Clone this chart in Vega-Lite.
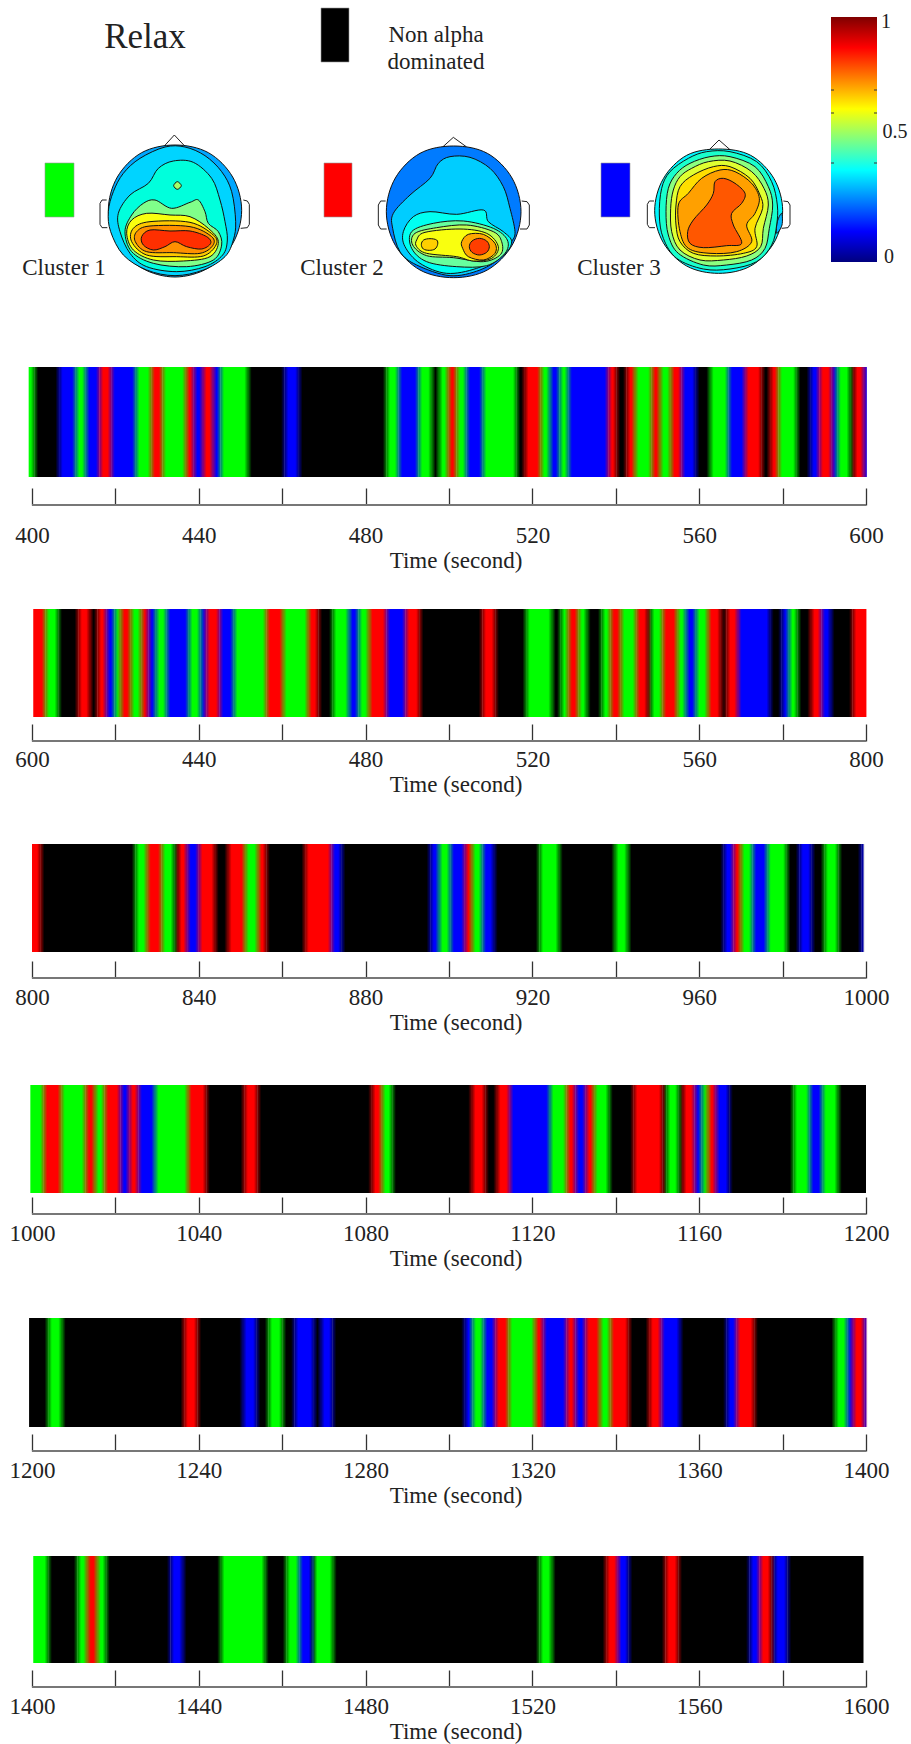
{
"$schema":"https://vega.github.io/schema/vega-lite/v6.json",
"padding":0,"background":"white","spacing":0,"bounds":"flush",
"config":{"view":{"stroke":null},"range":{"category":["#0000ff","#00ff00","#000000","#ff0000"]},
"axis":{"labelFont":"Liberation Serif","titleFont":"Liberation Serif","labelFontSize":23,"titleFontSize":23,"titleFontWeight":"normal","labelColor":"#222","titleColor":"#222","grid":false,"domain":false,"tickColor":"#333","tickWidth":1.3,"tickSize":-17,"labelPadding":25,"titlePadding":2,"labelFlush":false,"labelOverlap":false}},
"datasets":{
"heads":[
{"h":1,"c":"1z","l":0.25,"x":455,"y":256},{"h":1,"c":"1z","l":0.25,"x":428,"y":356},{"h":1,"c":"1z","l":0.25,"x":355,"y":429},{"h":1,"c":"1z","l":0.25,"x":255,"y":456},{"h":1,"c":"1z","l":0.25,"x":155,"y":429},{"h":1,"c":"1z","l":0.25,"x":82,"y":356},{"h":1,"c":"1z","l":0.25,"x":55,"y":256},{"h":1,"c":"1z","l":0.25,"x":82,"y":156},{"h":1,"c":"1z","l":0.25,"x":155,"y":83},{"h":1,"c":"1z","l":0.25,"x":255,"y":60},{"h":1,"c":"1z","l":0.25,"x":355,"y":83},{"h":1,"c":"1z","l":0.25,"x":428,"y":156},
{"h":1,"c":"1a","l":0.31,"x":225,"y":66},{"h":1,"c":"1a","l":0.31,"x":150,"y":100},{"h":1,"c":"1a","l":0.31,"x":100,"y":145},{"h":1,"c":"1a","l":0.31,"x":70,"y":200},{"h":1,"c":"1a","l":0.31,"x":55,"y":260},{"h":1,"c":"1a","l":0.31,"x":62,"y":320},{"h":1,"c":"1a","l":0.31,"x":100,"y":390},{"h":1,"c":"1a","l":0.31,"x":170,"y":435},{"h":1,"c":"1a","l":0.31,"x":255,"y":452},{"h":1,"c":"1a","l":0.31,"x":340,"y":435},{"h":1,"c":"1a","l":0.31,"x":405,"y":395},{"h":1,"c":"1a","l":0.31,"x":430,"y":345},{"h":1,"c":"1a","l":0.31,"x":437,"y":290},{"h":1,"c":"1a","l":0.31,"x":425,"y":200},{"h":1,"c":"1a","l":0.31,"x":395,"y":140},{"h":1,"c":"1a","l":0.31,"x":345,"y":92},{"h":1,"c":"1a","l":0.31,"x":285,"y":66},
{"h":1,"c":"1b","l":0.43,"x":250,"y":108},{"h":1,"c":"1b","l":0.43,"x":205,"y":130},{"h":1,"c":"1b","l":0.43,"x":175,"y":175},{"h":1,"c":"1b","l":0.43,"x":120,"y":210},{"h":1,"c":"1b","l":0.43,"x":85,"y":265},{"h":1,"c":"1b","l":0.43,"x":90,"y":320},{"h":1,"c":"1b","l":0.43,"x":120,"y":385},{"h":1,"c":"1b","l":0.43,"x":170,"y":425},{"h":1,"c":"1b","l":0.43,"x":260,"y":440},{"h":1,"c":"1b","l":0.43,"x":345,"y":425},{"h":1,"c":"1b","l":0.43,"x":398,"y":390},{"h":1,"c":"1b","l":0.43,"x":412,"y":345},{"h":1,"c":"1b","l":0.43,"x":405,"y":290},{"h":1,"c":"1b","l":0.43,"x":390,"y":225},{"h":1,"c":"1b","l":0.43,"x":365,"y":160},{"h":1,"c":"1b","l":0.43,"x":310,"y":112},
{"h":1,"c":"1d","l":0.55,"x":262,"y":170},{"h":1,"c":"1d","l":0.55,"x":274,"y":182},{"h":1,"c":"1d","l":0.55,"x":262,"y":193},{"h":1,"c":"1d","l":0.55,"x":251,"y":182},
{"h":1,"c":"1c","l":0.52,"x":125,"y":270},{"h":1,"c":"1c","l":0.52,"x":160,"y":235},{"h":1,"c":"1c","l":0.52,"x":195,"y":225},{"h":1,"c":"1c","l":0.52,"x":245,"y":250},{"h":1,"c":"1c","l":0.52,"x":300,"y":232},{"h":1,"c":"1c","l":0.52,"x":325,"y":225},{"h":1,"c":"1c","l":0.52,"x":345,"y":260},{"h":1,"c":"1c","l":0.52,"x":355,"y":295},{"h":1,"c":"1c","l":0.52,"x":385,"y":320},{"h":1,"c":"1c","l":0.52,"x":395,"y":360},{"h":1,"c":"1c","l":0.52,"x":370,"y":405},{"h":1,"c":"1c","l":0.52,"x":290,"y":425},{"h":1,"c":"1c","l":0.52,"x":190,"y":415},{"h":1,"c":"1c","l":0.52,"x":125,"y":380},{"h":1,"c":"1c","l":0.52,"x":105,"y":320},
{"h":1,"c":"1e","l":0.62,"x":125,"y":285},{"h":1,"c":"1e","l":0.62,"x":170,"y":265},{"h":1,"c":"1e","l":0.62,"x":240,"y":270},{"h":1,"c":"1e","l":0.62,"x":300,"y":275},{"h":1,"c":"1e","l":0.62,"x":355,"y":310},{"h":1,"c":"1e","l":0.62,"x":385,"y":350},{"h":1,"c":"1e","l":0.62,"x":360,"y":395},{"h":1,"c":"1e","l":0.62,"x":280,"y":408},{"h":1,"c":"1e","l":0.62,"x":190,"y":405},{"h":1,"c":"1e","l":0.62,"x":130,"y":375},{"h":1,"c":"1e","l":0.62,"x":110,"y":325},
{"h":1,"c":"1f","l":0.7,"x":130,"y":310},{"h":1,"c":"1f","l":0.7,"x":180,"y":290},{"h":1,"c":"1f","l":0.7,"x":300,"y":292},{"h":1,"c":"1f","l":0.7,"x":370,"y":330},{"h":1,"c":"1f","l":0.7,"x":378,"y":360},{"h":1,"c":"1f","l":0.7,"x":340,"y":393},{"h":1,"c":"1f","l":0.7,"x":260,"y":395},{"h":1,"c":"1f","l":0.7,"x":170,"y":390},{"h":1,"c":"1f","l":0.7,"x":125,"y":350},
{"h":1,"c":"1g","l":0.77,"x":140,"y":320},{"h":1,"c":"1g","l":0.77,"x":180,"y":303},{"h":1,"c":"1g","l":0.77,"x":300,"y":305},{"h":1,"c":"1g","l":0.77,"x":365,"y":335},{"h":1,"c":"1g","l":0.77,"x":368,"y":362},{"h":1,"c":"1g","l":0.77,"x":330,"y":385},{"h":1,"c":"1g","l":0.77,"x":250,"y":383},{"h":1,"c":"1g","l":0.77,"x":170,"y":380},{"h":1,"c":"1g","l":0.77,"x":136,"y":350},
{"h":1,"c":"1h","l":0.86,"x":155,"y":335},{"h":1,"c":"1h","l":0.86,"x":180,"y":315},{"h":1,"c":"1h","l":0.86,"x":240,"y":318},{"h":1,"c":"1h","l":0.86,"x":300,"y":318},{"h":1,"c":"1h","l":0.86,"x":350,"y":335},{"h":1,"c":"1h","l":0.86,"x":362,"y":355},{"h":1,"c":"1h","l":0.86,"x":335,"y":372},{"h":1,"c":"1h","l":0.86,"x":290,"y":365},{"h":1,"c":"1h","l":0.86,"x":255,"y":350},{"h":1,"c":"1h","l":0.86,"x":225,"y":365},{"h":1,"c":"1h","l":0.86,"x":190,"y":375},{"h":1,"c":"1h","l":0.86,"x":160,"y":360},

{"h":2,"c":"2z","l":0.2,"x":453,"y":260},{"h":2,"c":"2z","l":0.2,"x":426,"y":361},{"h":2,"c":"2z","l":0.2,"x":352,"y":435},{"h":2,"c":"2z","l":0.2,"x":251,"y":458},{"h":2,"c":"2z","l":0.2,"x":150,"y":435},{"h":2,"c":"2z","l":0.2,"x":76,"y":361},{"h":2,"c":"2z","l":0.2,"x":49,"y":260},{"h":2,"c":"2z","l":0.2,"x":76,"y":159},{"h":2,"c":"2z","l":0.2,"x":150,"y":85},{"h":2,"c":"2z","l":0.2,"x":251,"y":63},{"h":2,"c":"2z","l":0.2,"x":352,"y":85},{"h":2,"c":"2z","l":0.2,"x":426,"y":159},
{"h":2,"c":"2a","l":0.3,"x":205,"y":115},{"h":2,"c":"2a","l":0.3,"x":240,"y":95},{"h":2,"c":"2a","l":0.3,"x":300,"y":97},{"h":2,"c":"2a","l":0.3,"x":360,"y":130},{"h":2,"c":"2a","l":0.3,"x":400,"y":185},{"h":2,"c":"2a","l":0.3,"x":420,"y":250},{"h":2,"c":"2a","l":0.3,"x":435,"y":320},{"h":2,"c":"2a","l":0.3,"x":425,"y":350},{"h":2,"c":"2a","l":0.3,"x":395,"y":395},{"h":2,"c":"2a","l":0.3,"x":330,"y":435},{"h":2,"c":"2a","l":0.3,"x":240,"y":452},{"h":2,"c":"2a","l":0.3,"x":140,"y":420},{"h":2,"c":"2a","l":0.3,"x":90,"y":380},{"h":2,"c":"2a","l":0.3,"x":68,"y":310},{"h":2,"c":"2a","l":0.3,"x":70,"y":265},{"h":2,"c":"2a","l":0.3,"x":120,"y":210},{"h":2,"c":"2a","l":0.3,"x":180,"y":160},
{"h":2,"c":"2b","l":0.4,"x":130,"y":275},{"h":2,"c":"2b","l":0.4,"x":180,"y":260},{"h":2,"c":"2b","l":0.4,"x":260,"y":268},{"h":2,"c":"2b","l":0.4,"x":340,"y":255},{"h":2,"c":"2b","l":0.4,"x":355,"y":290},{"h":2,"c":"2b","l":0.4,"x":400,"y":320},{"h":2,"c":"2b","l":0.4,"x":425,"y":350},{"h":2,"c":"2b","l":0.4,"x":400,"y":390},{"h":2,"c":"2b","l":0.4,"x":320,"y":430},{"h":2,"c":"2b","l":0.4,"x":230,"y":445},{"h":2,"c":"2b","l":0.4,"x":150,"y":415},{"h":2,"c":"2b","l":0.4,"x":105,"y":365},{"h":2,"c":"2b","l":0.4,"x":100,"y":320},
{"h":2,"c":"2c","l":0.5,"x":125,"y":320},{"h":2,"c":"2c","l":0.5,"x":190,"y":295},{"h":2,"c":"2c","l":0.5,"x":280,"y":288},{"h":2,"c":"2c","l":0.5,"x":370,"y":310},{"h":2,"c":"2c","l":0.5,"x":412,"y":345},{"h":2,"c":"2c","l":0.5,"x":405,"y":385},{"h":2,"c":"2c","l":0.5,"x":350,"y":422},{"h":2,"c":"2c","l":0.5,"x":260,"y":425},{"h":2,"c":"2c","l":0.5,"x":170,"y":410},{"h":2,"c":"2c","l":0.5,"x":125,"y":370},
{"h":2,"c":"2d","l":0.57,"x":135,"y":325},{"h":2,"c":"2d","l":0.57,"x":200,"y":308},{"h":2,"c":"2d","l":0.57,"x":290,"y":300},{"h":2,"c":"2d","l":0.57,"x":370,"y":320},{"h":2,"c":"2d","l":0.57,"x":395,"y":350},{"h":2,"c":"2d","l":0.57,"x":392,"y":388},{"h":2,"c":"2d","l":0.57,"x":340,"y":410},{"h":2,"c":"2d","l":0.57,"x":250,"y":398},{"h":2,"c":"2d","l":0.57,"x":170,"y":392},{"h":2,"c":"2d","l":0.57,"x":128,"y":360},
{"h":2,"c":"2e","l":0.62,"x":140,"y":345},{"h":2,"c":"2e","l":0.62,"x":165,"y":322},{"h":2,"c":"2e","l":0.62,"x":270,"y":312},{"h":2,"c":"2e","l":0.62,"x":350,"y":325},{"h":2,"c":"2e","l":0.62,"x":385,"y":365},{"h":2,"c":"2e","l":0.62,"x":365,"y":400},{"h":2,"c":"2e","l":0.62,"x":310,"y":408},{"h":2,"c":"2e","l":0.62,"x":260,"y":395},{"h":2,"c":"2e","l":0.62,"x":170,"y":385},{"h":2,"c":"2e","l":0.62,"x":140,"y":365},
{"h":2,"c":"2f","l":0.69,"x":154,"y":358},{"h":2,"c":"2f","l":0.69,"x":161,"y":345},{"h":2,"c":"2f","l":0.69,"x":180,"y":341},{"h":2,"c":"2f","l":0.69,"x":200,"y":345},{"h":2,"c":"2f","l":0.69,"x":203,"y":358},{"h":2,"c":"2f","l":0.69,"x":195,"y":372},{"h":2,"c":"2f","l":0.69,"x":178,"y":376},{"h":2,"c":"2f","l":0.69,"x":160,"y":372},
{"h":2,"c":"2g","l":0.74,"x":275,"y":350},{"h":2,"c":"2g","l":0.74,"x":295,"y":328},{"h":2,"c":"2g","l":0.74,"x":340,"y":328},{"h":2,"c":"2g","l":0.74,"x":375,"y":355},{"h":2,"c":"2g","l":0.74,"x":375,"y":385},{"h":2,"c":"2g","l":0.74,"x":340,"y":405},{"h":2,"c":"2g","l":0.74,"x":295,"y":395},{"h":2,"c":"2g","l":0.74,"x":278,"y":370},
{"h":2,"c":"2h","l":0.85,"x":298,"y":365},{"h":2,"c":"2h","l":0.85,"x":306,"y":348},{"h":2,"c":"2h","l":0.85,"x":328,"y":340},{"h":2,"c":"2h","l":0.85,"x":350,"y":348},{"h":2,"c":"2h","l":0.85,"x":358,"y":365},{"h":2,"c":"2h","l":0.85,"x":350,"y":382},{"h":2,"c":"2h","l":0.85,"x":328,"y":390},{"h":2,"c":"2h","l":0.85,"x":306,"y":382},

{"h":3,"c":"3z","l":0.36,"x":428,"y":257},{"h":3,"c":"3z","l":0.36,"x":402,"y":353},{"h":3,"c":"3z","l":0.36,"x":332,"y":423},{"h":3,"c":"3z","l":0.36,"x":236,"y":445},{"h":3,"c":"3z","l":0.36,"x":140,"y":423},{"h":3,"c":"3z","l":0.36,"x":70,"y":353},{"h":3,"c":"3z","l":0.36,"x":44,"y":257},{"h":3,"c":"3z","l":0.36,"x":70,"y":161},{"h":3,"c":"3z","l":0.36,"x":140,"y":91},{"h":3,"c":"3z","l":0.36,"x":236,"y":72},{"h":3,"c":"3z","l":0.36,"x":332,"y":91},{"h":3,"c":"3z","l":0.36,"x":402,"y":161},
{"h":3,"c":"3y","l":0.27,"x":412,"y":290},{"h":3,"c":"3y","l":0.27,"x":425,"y":265},{"h":3,"c":"3y","l":0.27,"x":426,"y":300},{"h":3,"c":"3y","l":0.27,"x":410,"y":325},
{"h":3,"c":"3a","l":0.45,"x":145,"y":100},{"h":3,"c":"3a","l":0.45,"x":200,"y":80},{"h":3,"c":"3a","l":0.45,"x":270,"y":80},{"h":3,"c":"3a","l":0.45,"x":350,"y":110},{"h":3,"c":"3a","l":0.45,"x":395,"y":170},{"h":3,"c":"3a","l":0.45,"x":412,"y":240},{"h":3,"c":"3a","l":0.45,"x":410,"y":300},{"h":3,"c":"3a","l":0.45,"x":395,"y":360},{"h":3,"c":"3a","l":0.45,"x":350,"y":410},{"h":3,"c":"3a","l":0.45,"x":270,"y":432},{"h":3,"c":"3a","l":0.45,"x":190,"y":432},{"h":3,"c":"3a","l":0.45,"x":110,"y":400},{"h":3,"c":"3a","l":0.45,"x":70,"y":340},{"h":3,"c":"3a","l":0.45,"x":58,"y":270},{"h":3,"c":"3a","l":0.45,"x":65,"y":190},{"h":3,"c":"3a","l":0.45,"x":90,"y":140},
{"h":3,"c":"3b","l":0.53,"x":150,"y":115},{"h":3,"c":"3b","l":0.53,"x":210,"y":95},{"h":3,"c":"3b","l":0.53,"x":270,"y":95},{"h":3,"c":"3b","l":0.53,"x":345,"y":125},{"h":3,"c":"3b","l":0.53,"x":385,"y":185},{"h":3,"c":"3b","l":0.53,"x":398,"y":240},{"h":3,"c":"3b","l":0.53,"x":388,"y":310},{"h":3,"c":"3b","l":0.53,"x":375,"y":370},{"h":3,"c":"3b","l":0.53,"x":335,"y":405},{"h":3,"c":"3b","l":0.53,"x":260,"y":420},{"h":3,"c":"3b","l":0.53,"x":190,"y":420},{"h":3,"c":"3b","l":0.53,"x":115,"y":385},{"h":3,"c":"3b","l":0.53,"x":85,"y":330},{"h":3,"c":"3b","l":0.53,"x":78,"y":260},{"h":3,"c":"3b","l":0.53,"x":85,"y":190},{"h":3,"c":"3b","l":0.53,"x":110,"y":145},
{"h":3,"c":"3c","l":0.6,"x":155,"y":130},{"h":3,"c":"3c","l":0.6,"x":205,"y":110},{"h":3,"c":"3c","l":0.6,"x":270,"y":108},{"h":3,"c":"3c","l":0.6,"x":335,"y":140},{"h":3,"c":"3c","l":0.6,"x":372,"y":190},{"h":3,"c":"3c","l":0.6,"x":385,"y":240},{"h":3,"c":"3c","l":0.6,"x":370,"y":310},{"h":3,"c":"3c","l":0.6,"x":362,"y":365},{"h":3,"c":"3c","l":0.6,"x":320,"y":393},{"h":3,"c":"3c","l":0.6,"x":250,"y":405},{"h":3,"c":"3c","l":0.6,"x":180,"y":405},{"h":3,"c":"3c","l":0.6,"x":120,"y":375},{"h":3,"c":"3c","l":0.6,"x":95,"y":320},{"h":3,"c":"3c","l":0.6,"x":92,"y":250},{"h":3,"c":"3c","l":0.6,"x":100,"y":195},{"h":3,"c":"3c","l":0.6,"x":120,"y":155},
{"h":3,"c":"3d","l":0.67,"x":160,"y":150},{"h":3,"c":"3d","l":0.67,"x":220,"y":125},{"h":3,"c":"3d","l":0.67,"x":270,"y":125},{"h":3,"c":"3d","l":0.67,"x":330,"y":160},{"h":3,"c":"3d","l":0.67,"x":360,"y":210},{"h":3,"c":"3d","l":0.67,"x":368,"y":250},{"h":3,"c":"3d","l":0.67,"x":345,"y":310},{"h":3,"c":"3d","l":0.67,"x":350,"y":365},{"h":3,"c":"3d","l":0.67,"x":310,"y":385},{"h":3,"c":"3d","l":0.67,"x":230,"y":393},{"h":3,"c":"3d","l":0.67,"x":160,"y":385},{"h":3,"c":"3d","l":0.67,"x":120,"y":350},{"h":3,"c":"3d","l":0.67,"x":108,"y":300},{"h":3,"c":"3d","l":0.67,"x":108,"y":240},{"h":3,"c":"3d","l":0.67,"x":120,"y":185},
{"h":3,"c":"3e","l":0.75,"x":145,"y":205},{"h":3,"c":"3e","l":0.75,"x":185,"y":160},{"h":3,"c":"3e","l":0.75,"x":240,"y":135},{"h":3,"c":"3e","l":0.75,"x":285,"y":140},{"h":3,"c":"3e","l":0.75,"x":335,"y":175},{"h":3,"c":"3e","l":0.75,"x":358,"y":220},{"h":3,"c":"3e","l":0.75,"x":345,"y":265},{"h":3,"c":"3e","l":0.75,"x":320,"y":300},{"h":3,"c":"3e","l":0.75,"x":335,"y":350},{"h":3,"c":"3e","l":0.75,"x":290,"y":380},{"h":3,"c":"3e","l":0.75,"x":210,"y":385},{"h":3,"c":"3e","l":0.75,"x":145,"y":370},{"h":3,"c":"3e","l":0.75,"x":120,"y":320},{"h":3,"c":"3e","l":0.75,"x":115,"y":240},
{"h":3,"c":"3f","l":0.83,"x":225,"y":170},{"h":3,"c":"3f","l":0.83,"x":250,"y":160},{"h":3,"c":"3f","l":0.83,"x":285,"y":175},{"h":3,"c":"3f","l":0.83,"x":315,"y":205},{"h":3,"c":"3f","l":0.83,"x":305,"y":235},{"h":3,"c":"3f","l":0.83,"x":275,"y":265},{"h":3,"c":"3f","l":0.83,"x":280,"y":300},{"h":3,"c":"3f","l":0.83,"x":305,"y":355},{"h":3,"c":"3f","l":0.83,"x":260,"y":362},{"h":3,"c":"3f","l":0.83,"x":190,"y":368},{"h":3,"c":"3f","l":0.83,"x":150,"y":355},{"h":3,"c":"3f","l":0.83,"x":143,"y":320},{"h":3,"c":"3f","l":0.83,"x":160,"y":285},{"h":3,"c":"3f","l":0.83,"x":200,"y":240},{"h":3,"c":"3f","l":0.83,"x":220,"y":205}
],
"outlines":[
{"h":1,"c":"n1","x":222,"y":64},{"h":1,"c":"n1","x":253,"y":30},{"h":1,"c":"n1","x":285,"y":64},
{"h":1,"c":"e1l","x":50,"y":225},{"h":1,"c":"e1l","x":36,"y":225},{"h":1,"c":"e1l","x":30,"y":235},{"h":1,"c":"e1l","x":30,"y":298},{"h":1,"c":"e1l","x":36,"y":308},{"h":1,"c":"e1l","x":52,"y":308},
{"h":1,"c":"e1r","x":460,"y":225},{"h":1,"c":"e1r","x":472,"y":228},{"h":1,"c":"e1r","x":478,"y":238},{"h":1,"c":"e1r","x":478,"y":298},{"h":1,"c":"e1r","x":472,"y":308},{"h":1,"c":"e1r","x":452,"y":310},
{"h":2,"c":"n2","x":218,"y":66},{"h":2,"c":"n2","x":250,"y":37},{"h":2,"c":"n2","x":290,"y":66},
{"h":2,"c":"e2l","x":47,"y":228},{"h":2,"c":"e2l","x":32,"y":228},{"h":2,"c":"e2l","x":25,"y":240},{"h":2,"c":"e2l","x":25,"y":300},{"h":2,"c":"e2l","x":32,"y":312},{"h":2,"c":"e2l","x":50,"y":312},
{"h":2,"c":"e2r","x":455,"y":228},{"h":2,"c":"e2r","x":471,"y":230},{"h":2,"c":"e2r","x":478,"y":240},{"h":2,"c":"e2r","x":478,"y":300},{"h":2,"c":"e2r","x":471,"y":312},{"h":2,"c":"e2r","x":450,"y":312},
{"h":3,"c":"n3","x":208,"y":74},{"h":3,"c":"n3","x":237,"y":45},{"h":3,"c":"n3","x":270,"y":74},
{"h":3,"c":"e3l","x":42,"y":228},{"h":3,"c":"e3l","x":28,"y":228},{"h":3,"c":"e3l","x":22,"y":238},{"h":3,"c":"e3l","x":22,"y":298},{"h":3,"c":"e3l","x":28,"y":308},{"h":3,"c":"e3l","x":45,"y":308},
{"h":3,"c":"e3r","x":430,"y":228},{"h":3,"c":"e3r","x":444,"y":230},{"h":3,"c":"e3r","x":450,"y":240},{"h":3,"c":"e3r","x":450,"y":298},{"h":3,"c":"e3r","x":444,"y":308},{"h":3,"c":"e3r","x":425,"y":310}
],
"segments":[
{"s":1,"a":399.2,"b":400.6,"k":"G"},{"s":1,"a":400.6,"b":406.5,"k":"K"},{"s":1,"a":406.5,"b":410.5,"k":"B"},{"s":1,"a":410.5,"b":412.9,"k":"G"},{"s":1,"a":412.9,"b":416.2,"k":"B"},{"s":1,"a":416.2,"b":419,"k":"R"},{"s":1,"a":419,"b":424.9,"k":"B"},{"s":1,"a":424.9,"b":428.6,"k":"G"},{"s":1,"a":428.6,"b":431.3,"k":"R"},{"s":1,"a":431.3,"b":436.9,"k":"G"},{"s":1,"a":436.9,"b":438.8,"k":"R"},{"s":1,"a":438.8,"b":441,"k":"B"},{"s":1,"a":441,"b":443.4,"k":"R"},{"s":1,"a":443.4,"b":445.2,"k":"B"},{"s":1,"a":445.2,"b":451.8,"k":"G"},{"s":1,"a":451.8,"b":460.6,"k":"K"},{"s":1,"a":460.6,"b":464,"k":"B"},{"s":1,"a":464,"b":485,"k":"K"},{"s":1,"a":485,"b":487.9,"k":"G"},{"s":1,"a":487.9,"b":492.7,"k":"B"},{"s":1,"a":492.7,"b":495.9,"k":"G"},{"s":1,"a":495.9,"b":497.6,"k":"K"},{"s":1,"a":497.6,"b":499.8,"k":"G"},{"s":1,"a":499.8,"b":501.8,"k":"R"},{"s":1,"a":501.8,"b":504.2,"k":"G"},{"s":1,"a":504.2,"b":508.1,"k":"B"},{"s":1,"a":508.1,"b":516.2,"k":"G"},{"s":1,"a":516.2,"b":518.2,"k":"K"},{"s":1,"a":518.2,"b":522,"k":"R"},{"s":1,"a":522,"b":524.2,"k":"G"},{"s":1,"a":524.2,"b":526.5,"k":"B"},{"s":1,"a":526.5,"b":528.6,"k":"G"},{"s":1,"a":528.6,"b":538.2,"k":"B"},{"s":1,"a":538.2,"b":540.2,"k":"R"},{"s":1,"a":540.2,"b":542.6,"k":"K"},{"s":1,"a":542.6,"b":544.6,"k":"R"},{"s":1,"a":544.6,"b":548.6,"k":"G"},{"s":1,"a":548.6,"b":550.6,"k":"R"},{"s":1,"a":550.6,"b":553.2,"k":"G"},{"s":1,"a":553.2,"b":555.8,"k":"R"},{"s":1,"a":555.8,"b":559.2,"k":"B"},{"s":1,"a":559.2,"b":562.6,"k":"K"},{"s":1,"a":562.6,"b":567,"k":"G"},{"s":1,"a":567,"b":571,"k":"B"},{"s":1,"a":571,"b":575,"k":"R"},{"s":1,"a":575,"b":577,"k":"K"},{"s":1,"a":577,"b":579,"k":"R"},{"s":1,"a":579,"b":583.4,"k":"G"},{"s":1,"a":583.4,"b":586.6,"k":"K"},{"s":1,"a":586.6,"b":588.8,"k":"B"},{"s":1,"a":588.8,"b":591.8,"k":"R"},{"s":1,"a":591.8,"b":593.1,"k":"B"},{"s":1,"a":593.1,"b":596.2,"k":"G"},{"s":1,"a":596.2,"b":597.1,"k":"K"},{"s":1,"a":597.1,"b":599.5,"k":"R"},{"s":1,"a":599.5,"b":600.2,"k":"B"},
{"s":2,"a":600.3,"b":603.2,"k":"R"},{"s":2,"a":603.2,"b":606.3,"k":"G"},{"s":2,"a":606.3,"b":611.1,"k":"K"},{"s":2,"a":611.1,"b":613.9,"k":"R"},{"s":2,"a":613.9,"b":615.7,"k":"K"},{"s":2,"a":615.7,"b":617.8,"k":"R"},{"s":2,"a":617.8,"b":619.8,"k":"B"},{"s":2,"a":619.8,"b":621.3,"k":"G"},{"s":2,"a":621.3,"b":623.7,"k":"R"},{"s":2,"a":623.7,"b":626.2,"k":"G"},{"s":2,"a":626.2,"b":627.9,"k":"R"},{"s":2,"a":627.9,"b":629.7,"k":"B"},{"s":2,"a":629.7,"b":632.3,"k":"G"},{"s":2,"a":632.3,"b":637.6,"k":"B"},{"s":2,"a":637.6,"b":640.4,"k":"G"},{"s":2,"a":640.4,"b":641.8,"k":"B"},{"s":2,"a":641.8,"b":645,"k":"R"},{"s":2,"a":645,"b":648.4,"k":"B"},{"s":2,"a":648.4,"b":656.2,"k":"G"},{"s":2,"a":656.2,"b":660.2,"k":"R"},{"s":2,"a":660.2,"b":666.2,"k":"G"},{"s":2,"a":666.2,"b":668.7,"k":"R"},{"s":2,"a":668.7,"b":672.1,"k":"K"},{"s":2,"a":672.1,"b":676,"k":"G"},{"s":2,"a":676,"b":678.3,"k":"B"},{"s":2,"a":678.3,"b":680.8,"k":"G"},{"s":2,"a":680.8,"b":685,"k":"R"},{"s":2,"a":685,"b":689.6,"k":"B"},{"s":2,"a":689.6,"b":693,"k":"R"},{"s":2,"a":693,"b":708,"k":"K"},{"s":2,"a":708,"b":711.1,"k":"R"},{"s":2,"a":711.1,"b":718.5,"k":"K"},{"s":2,"a":718.5,"b":724.7,"k":"G"},{"s":2,"a":724.7,"b":726.8,"k":"K"},{"s":2,"a":726.8,"b":728.6,"k":"G"},{"s":2,"a":728.6,"b":731,"k":"R"},{"s":2,"a":731,"b":733.1,"k":"G"},{"s":2,"a":733.1,"b":736.6,"k":"K"},{"s":2,"a":736.6,"b":738.7,"k":"G"},{"s":2,"a":738.7,"b":741.2,"k":"R"},{"s":2,"a":741.2,"b":744.9,"k":"G"},{"s":2,"a":744.9,"b":747.7,"k":"R"},{"s":2,"a":747.7,"b":748.4,"k":"K"},{"s":2,"a":748.4,"b":751.2,"k":"G"},{"s":2,"a":751.2,"b":754.7,"k":"R"},{"s":2,"a":754.7,"b":756.8,"k":"G"},{"s":2,"a":756.8,"b":759.2,"k":"B"},{"s":2,"a":759.2,"b":762.1,"k":"G"},{"s":2,"a":762.1,"b":765.2,"k":"R"},{"s":2,"a":765.2,"b":766.6,"k":"K"},{"s":2,"a":766.6,"b":769.3,"k":"R"},{"s":2,"a":769.3,"b":777,"k":"B"},{"s":2,"a":777,"b":779.8,"k":"K"},{"s":2,"a":779.8,"b":781.5,"k":"B"},{"s":2,"a":781.5,"b":783.6,"k":"G"},{"s":2,"a":783.6,"b":786.8,"k":"K"},{"s":2,"a":786.8,"b":789.3,"k":"R"},{"s":2,"a":789.3,"b":791.6,"k":"B"},{"s":2,"a":791.6,"b":796.8,"k":"K"},{"s":2,"a":796.8,"b":800.1,"k":"R"},
{"s":3,"a":800,"b":802.1,"k":"R"},{"s":3,"a":802.1,"b":824.8,"k":"K"},{"s":3,"a":824.8,"b":827.6,"k":"G"},{"s":3,"a":827.6,"b":831.1,"k":"R"},{"s":3,"a":831.1,"b":834.1,"k":"G"},{"s":3,"a":834.1,"b":835,"k":"K"},{"s":3,"a":835,"b":837.2,"k":"R"},{"s":3,"a":837.2,"b":840,"k":"B"},{"s":3,"a":840,"b":843.9,"k":"R"},{"s":3,"a":843.9,"b":847,"k":"K"},{"s":3,"a":847,"b":851.1,"k":"R"},{"s":3,"a":851.1,"b":854.2,"k":"G"},{"s":3,"a":854.2,"b":856.2,"k":"R"},{"s":3,"a":856.2,"b":865.5,"k":"K"},{"s":3,"a":865.5,"b":871.8,"k":"R"},{"s":3,"a":871.8,"b":874.3,"k":"B"},{"s":3,"a":874.3,"b":895.5,"k":"K"},{"s":3,"a":895.5,"b":897.6,"k":"B"},{"s":3,"a":897.6,"b":900.3,"k":"G"},{"s":3,"a":900.3,"b":903.8,"k":"B"},{"s":3,"a":903.8,"b":905.5,"k":"R"},{"s":3,"a":905.5,"b":908,"k":"G"},{"s":3,"a":908,"b":910.8,"k":"B"},{"s":3,"a":910.8,"b":921.7,"k":"K"},{"s":3,"a":921.7,"b":926.4,"k":"G"},{"s":3,"a":926.4,"b":939.8,"k":"K"},{"s":3,"a":939.8,"b":942.9,"k":"G"},{"s":3,"a":942.9,"b":965.9,"k":"K"},{"s":3,"a":965.9,"b":968.2,"k":"B"},{"s":3,"a":968.2,"b":970,"k":"R"},{"s":3,"a":970,"b":972.8,"k":"G"},{"s":3,"a":972.8,"b":976.3,"k":"B"},{"s":3,"a":976.3,"b":981,"k":"G"},{"s":3,"a":981,"b":984,"k":"K"},{"s":3,"a":984,"b":987,"k":"B"},{"s":3,"a":987,"b":990,"k":"K"},{"s":3,"a":990,"b":993.4,"k":"G"},{"s":3,"a":993.4,"b":998.9,"k":"K"},{"s":3,"a":998.9,"b":999.4,"k":"B"},
{"s":4,"a":999.6,"b":1002.8,"k":"G"},{"s":4,"a":1002.8,"b":1007,"k":"R"},{"s":4,"a":1007,"b":1012.8,"k":"G"},{"s":4,"a":1012.8,"b":1015.1,"k":"R"},{"s":4,"a":1015.1,"b":1017.4,"k":"G"},{"s":4,"a":1017.4,"b":1021.2,"k":"R"},{"s":4,"a":1021.2,"b":1023.3,"k":"B"},{"s":4,"a":1023.3,"b":1025.5,"k":"R"},{"s":4,"a":1025.5,"b":1029.5,"k":"B"},{"s":4,"a":1029.5,"b":1037.4,"k":"G"},{"s":4,"a":1037.4,"b":1041.8,"k":"R"},{"s":4,"a":1041.8,"b":1050.9,"k":"K"},{"s":4,"a":1050.9,"b":1054.1,"k":"R"},{"s":4,"a":1054.1,"b":1081.5,"k":"K"},{"s":4,"a":1081.5,"b":1083.9,"k":"R"},{"s":4,"a":1083.9,"b":1086.4,"k":"G"},{"s":4,"a":1086.4,"b":1105.5,"k":"K"},{"s":4,"a":1105.5,"b":1108.7,"k":"R"},{"s":4,"a":1108.7,"b":1111.5,"k":"K"},{"s":4,"a":1111.5,"b":1114.6,"k":"R"},{"s":4,"a":1114.6,"b":1124.2,"k":"B"},{"s":4,"a":1124.2,"b":1128.2,"k":"G"},{"s":4,"a":1128.2,"b":1130.3,"k":"R"},{"s":4,"a":1130.3,"b":1132.8,"k":"B"},{"s":4,"a":1132.8,"b":1134.8,"k":"R"},{"s":4,"a":1134.8,"b":1138.4,"k":"G"},{"s":4,"a":1138.4,"b":1144.3,"k":"K"},{"s":4,"a":1144.3,"b":1151.2,"k":"R"},{"s":4,"a":1151.2,"b":1152.2,"k":"K"},{"s":4,"a":1152.2,"b":1155.1,"k":"G"},{"s":4,"a":1155.1,"b":1156.1,"k":"K"},{"s":4,"a":1156.1,"b":1158.9,"k":"R"},{"s":4,"a":1158.9,"b":1160.6,"k":"B"},{"s":4,"a":1160.6,"b":1162.1,"k":"G"},{"s":4,"a":1162.1,"b":1164,"k":"R"},{"s":4,"a":1164,"b":1167.2,"k":"B"},{"s":4,"a":1167.2,"b":1182.6,"k":"K"},{"s":4,"a":1182.6,"b":1186.5,"k":"G"},{"s":4,"a":1186.5,"b":1189.5,"k":"B"},{"s":4,"a":1189.5,"b":1193.3,"k":"G"},{"s":4,"a":1193.3,"b":1200,"k":"K"},
{"s":5,"a":1199.3,"b":1203.9,"k":"K"},{"s":5,"a":1203.9,"b":1207.2,"k":"G"},{"s":5,"a":1207.2,"b":1236.5,"k":"K"},{"s":5,"a":1236.5,"b":1239.7,"k":"R"},{"s":5,"a":1239.7,"b":1250.6,"k":"K"},{"s":5,"a":1250.6,"b":1253.9,"k":"B"},{"s":5,"a":1253.9,"b":1256.7,"k":"K"},{"s":5,"a":1256.7,"b":1260.1,"k":"G"},{"s":5,"a":1260.1,"b":1263,"k":"K"},{"s":5,"a":1263,"b":1267.6,"k":"B"},{"s":5,"a":1267.6,"b":1269.3,"k":"K"},{"s":5,"a":1269.3,"b":1272.1,"k":"B"},{"s":5,"a":1272.1,"b":1303.8,"k":"K"},{"s":5,"a":1303.8,"b":1305.6,"k":"B"},{"s":5,"a":1305.6,"b":1308.3,"k":"G"},{"s":5,"a":1308.3,"b":1311.1,"k":"B"},{"s":5,"a":1311.1,"b":1314.3,"k":"R"},{"s":5,"a":1314.3,"b":1320.6,"k":"G"},{"s":5,"a":1320.6,"b":1322.6,"k":"R"},{"s":5,"a":1322.6,"b":1328.2,"k":"B"},{"s":5,"a":1328.2,"b":1330.3,"k":"R"},{"s":5,"a":1330.3,"b":1332.7,"k":"B"},{"s":5,"a":1332.7,"b":1336.2,"k":"R"},{"s":5,"a":1336.2,"b":1338.7,"k":"G"},{"s":5,"a":1338.7,"b":1343.1,"k":"R"},{"s":5,"a":1343.1,"b":1348,"k":"K"},{"s":5,"a":1348,"b":1350.9,"k":"R"},{"s":5,"a":1350.9,"b":1355.4,"k":"B"},{"s":5,"a":1355.4,"b":1366.6,"k":"K"},{"s":5,"a":1366.6,"b":1369,"k":"B"},{"s":5,"a":1369,"b":1373.2,"k":"R"},{"s":5,"a":1373.2,"b":1392.6,"k":"K"},{"s":5,"a":1392.6,"b":1395.5,"k":"G"},{"s":5,"a":1395.5,"b":1396.9,"k":"B"},{"s":5,"a":1396.9,"b":1399.6,"k":"R"},{"s":5,"a":1399.6,"b":1400.1,"k":"B"},
{"s":6,"a":1400.3,"b":1403.9,"k":"G"},{"s":6,"a":1403.9,"b":1410.9,"k":"K"},{"s":6,"a":1410.9,"b":1413.2,"k":"G"},{"s":6,"a":1413.2,"b":1415.6,"k":"R"},{"s":6,"a":1415.6,"b":1417.8,"k":"G"},{"s":6,"a":1417.8,"b":1433.2,"k":"K"},{"s":6,"a":1433.2,"b":1436.2,"k":"B"},{"s":6,"a":1436.2,"b":1445.3,"k":"K"},{"s":6,"a":1445.3,"b":1455.9,"k":"G"},{"s":6,"a":1455.9,"b":1461,"k":"K"},{"s":6,"a":1461,"b":1464.1,"k":"G"},{"s":6,"a":1464.1,"b":1467.2,"k":"B"},{"s":6,"a":1467.2,"b":1467.6,"k":"K"},{"s":6,"a":1467.6,"b":1472.2,"k":"G"},{"s":6,"a":1472.2,"b":1521.7,"k":"K"},{"s":6,"a":1521.7,"b":1524.7,"k":"G"},{"s":6,"a":1524.7,"b":1537.7,"k":"K"},{"s":6,"a":1537.7,"b":1540.5,"k":"R"},{"s":6,"a":1540.5,"b":1543.1,"k":"B"},{"s":6,"a":1543.1,"b":1551.9,"k":"K"},{"s":6,"a":1551.9,"b":1555,"k":"R"},{"s":6,"a":1555,"b":1572.1,"k":"K"},{"s":6,"a":1572.1,"b":1574.5,"k":"B"},{"s":6,"a":1574.5,"b":1577.3,"k":"R"},{"s":6,"a":1577.3,"b":1578,"k":"K"},{"s":6,"a":1578,"b":1581.2,"k":"B"},{"s":6,"a":1581.2,"b":1599.4,"k":"K"}
]},
"data":{"name":"segments"},
"vconcat":[
{"width":911,"height":367,
"layer":[
{"data":{"values":[{"k":"K","x0":321,"x1":349,"y0":8,"y1":62},{"k":"G","x0":45,"x1":74,"y0":163,"y1":217},{"k":"R","x0":324,"x1":352,"y0":163,"y1":217},{"k":"B","x0":601,"x1":630,"y0":163,"y1":217}]},
"mark":{"type":"rect","stroke":"#999","strokeWidth":0.6},
"encoding":{"x":{"field":"x0","type":"quantitative","scale":{"domain":[0,911],"nice":false},"axis":null},"x2":{"field":"x1"},"y":{"field":"y0","type":"quantitative","scale":{"domain":[0,367],"reverse":true,"nice":false},"axis":null},"y2":{"field":"y1"},"fill":{"field":"k","type":"nominal","legend":null}}},
{"data":{"values":[{"x0":831,"x1":877,"y0":17,"y1":262}]},
"mark":{"type":"rect","fill":{"gradient":"linear","x1":0,"y1":1,"x2":0,"y2":0,"stops":[{"offset":0,"color":"#00007f"},{"offset":0.125,"color":"#0000ff"},{"offset":0.375,"color":"#00ffff"},{"offset":0.625,"color":"#ffff00"},{"offset":0.875,"color":"#ff0000"},{"offset":1,"color":"#7f0000"}]}},
"encoding":{"x":{"field":"x0","type":"quantitative"},"x2":{"field":"x1"},"y":{"field":"y0","type":"quantitative"},"y2":{"field":"y1"}}},
{"data":{"values":[{"x0":831,"x1":834,"y":90},{"x0":874,"x1":877,"y":90},{"x0":831,"x1":834,"y":113},{"x0":874,"x1":877,"y":113},{"x0":831,"x1":834,"y":163},{"x0":874,"x1":877,"y":163}]},
"mark":{"type":"rule","color":"#333","strokeWidth":1},
"encoding":{"x":{"field":"x0","type":"quantitative"},"x2":{"field":"x1"},"y":{"field":"y","type":"quantitative"}}},
{"data":{"name":"outlines"},
"transform":[{"window":[{"op":"row_number","as":"i"}]},{"calculate":"(datum.h==1?90:datum.h==2?370:640)+datum.x/3","as":"X"},{"calculate":"125+datum.y/3","as":"Y"}],
"mark":{"type":"line","filled":true,"fill":"white","stroke":"#222","strokeWidth":1},
"encoding":{"x":{"field":"X","type":"quantitative"},"y":{"field":"Y","type":"quantitative"},"detail":{"field":"c"},"order":{"field":"i","type":"quantitative"}}},
{"data":{"name":"heads"},
"transform":[{"window":[{"op":"row_number","as":"i"}]},{"calculate":"(datum.h==1?90:datum.h==2?370:640)+datum.x/3","as":"X"},{"calculate":"125+datum.y/3","as":"Y"}],
"mark":{"type":"line","filled":true,"interpolate":"cardinal-closed","stroke":"#111","strokeWidth":1},
"encoding":{"x":{"field":"X","type":"quantitative"},"y":{"field":"Y","type":"quantitative"},"detail":{"field":"c"},"order":{"field":"i","type":"quantitative"},"color":{"field":"l","type":"quantitative","scale":{"domain":[0,0.125,0.375,0.625,0.875,1],"range":["#00007f","#0000ff","#00ffff","#ffff00","#ff0000","#7f0000"]},"legend":null}}},
{"data":{"values":[{"t":"Relax","x":145,"y":37}]},"mark":{"type":"text","font":"Liberation Serif","fontSize":35,"color":"#222"},"encoding":{"x":{"field":"x","type":"quantitative"},"y":{"field":"y","type":"quantitative"},"text":{"field":"t"}}},
{"data":{"values":[{"t":"Non alpha","x":436,"y":35},{"t":"dominated","x":436,"y":62},{"t":"Cluster 1","x":64,"y":268},{"t":"Cluster 2","x":342,"y":268},{"t":"Cluster 3","x":619,"y":268}]},"mark":{"type":"text","font":"Liberation Serif","fontSize":23,"color":"#222"},"encoding":{"x":{"field":"x","type":"quantitative"},"y":{"field":"y","type":"quantitative"},"text":{"field":"t"}}},
{"data":{"values":[{"t":"1","x":886,"y":22},{"t":"0.5","x":895,"y":132},{"t":"0","x":889,"y":257}]},"mark":{"type":"text","font":"Liberation Serif","fontSize":20,"color":"#222"},"encoding":{"x":{"field":"x","type":"quantitative"},"y":{"field":"y","type":"quantitative"},"text":{"field":"t"}}}
]},
{"width":911,"height":242,"transform":[{"filter":"datum.s==1"},{"window":[{"op":"lead","field":"k","as":"n"}],"sort":[{"field":"a"}]},{"calculate":"datum.b-0.75","as":"u1"},{"calculate":"datum.b-0.5","as":"u2"},{"calculate":"datum.b-0.25","as":"u3"},{"calculate":"datum.b+0.25","as":"v1"},{"calculate":"datum.b+0.5","as":"v2"},{"calculate":"datum.b+0.75","as":"v3"}],
"layer":[
{"mark":"rect","encoding":{"x":{"field":"a","type":"quantitative","scale":{"domain":[392.326,610.791],"nice":false},"axis":{"values":[400,420,440,460,480,500,520,540,560,580,600],"labelExpr":"datum.value%40==0?datum.label:''","title":"Time (second)","offset":-104,"labelPadding":36}},"x2":{"field":"b"},"y":{"datum":0,"scale":{"domain":[0,242],"reverse":true,"nice":false},"axis":null},"y2":{"datum":110},"fill":{"field":"k","type":"nominal","legend":null}}},
{"transform":[{"filter":"datum.n"}],"mark":{"type":"rect","opacity":0.15},"encoding":{"x":{"field":"u1","type":"quantitative"},"x2":{"field":"b"},"y":{"datum":0},"y2":{"datum":110},"fill":{"field":"n","type":"nominal","legend":null}}},
{"transform":[{"filter":"datum.n"}],"mark":{"type":"rect","opacity":0.18},"encoding":{"x":{"field":"u2","type":"quantitative"},"x2":{"field":"b"},"y":{"datum":0},"y2":{"datum":110},"fill":{"field":"n","type":"nominal","legend":null}}},
{"transform":[{"filter":"datum.n"}],"mark":{"type":"rect","opacity":0.22},"encoding":{"x":{"field":"u3","type":"quantitative"},"x2":{"field":"b"},"y":{"datum":0},"y2":{"datum":110},"fill":{"field":"n","type":"nominal","legend":null}}},
{"transform":[{"filter":"datum.n"}],"mark":{"type":"rect","opacity":0.15},"encoding":{"x":{"field":"b","type":"quantitative"},"x2":{"field":"v3"},"y":{"datum":0},"y2":{"datum":110},"fill":{"field":"k","type":"nominal","legend":null}}},
{"transform":[{"filter":"datum.n"}],"mark":{"type":"rect","opacity":0.18},"encoding":{"x":{"field":"b","type":"quantitative"},"x2":{"field":"v2"},"y":{"datum":0},"y2":{"datum":110},"fill":{"field":"k","type":"nominal","legend":null}}},
{"transform":[{"filter":"datum.n"}],"mark":{"type":"rect","opacity":0.22},"encoding":{"x":{"field":"b","type":"quantitative"},"x2":{"field":"v1"},"y":{"datum":0},"y2":{"datum":110},"fill":{"field":"k","type":"nominal","legend":null}}},
{"mark":{"type":"rule","color":"#777","strokeWidth":2},"encoding":{"x":{"datum":400},"x2":{"datum":600},"y":{"datum":138}}}
]},
{"width":911,"height":235,"transform":[{"filter":"datum.s==2"},{"window":[{"op":"lead","field":"k","as":"n"}],"sort":[{"field":"a"}]},{"calculate":"datum.b-0.75","as":"u1"},{"calculate":"datum.b-0.5","as":"u2"},{"calculate":"datum.b-0.25","as":"u3"},{"calculate":"datum.b+0.25","as":"v1"},{"calculate":"datum.b+0.5","as":"v2"},{"calculate":"datum.b+0.75","as":"v3"}],
"layer":[
{"mark":"rect","encoding":{"x":{"field":"a","type":"quantitative","scale":{"domain":[592.326,810.791],"nice":false},"axis":{"values":[600,620,640,660,680,700,720,740,760,780,800],"labelExpr":"datum.value==600||datum.value==800?datum.label:datum.value%40==0?''+(datum.value-200):''","title":"Time (second)","offset":-103,"labelPadding":24}},"x2":{"field":"b"},"y":{"datum":0,"scale":{"domain":[0,235],"reverse":true,"nice":false},"axis":null},"y2":{"datum":108},"fill":{"field":"k","type":"nominal","legend":null}}},
{"transform":[{"filter":"datum.n"}],"mark":{"type":"rect","opacity":0.15},"encoding":{"x":{"field":"u1","type":"quantitative"},"x2":{"field":"b"},"y":{"datum":0},"y2":{"datum":108},"fill":{"field":"n","type":"nominal","legend":null}}},
{"transform":[{"filter":"datum.n"}],"mark":{"type":"rect","opacity":0.18},"encoding":{"x":{"field":"u2","type":"quantitative"},"x2":{"field":"b"},"y":{"datum":0},"y2":{"datum":108},"fill":{"field":"n","type":"nominal","legend":null}}},
{"transform":[{"filter":"datum.n"}],"mark":{"type":"rect","opacity":0.22},"encoding":{"x":{"field":"u3","type":"quantitative"},"x2":{"field":"b"},"y":{"datum":0},"y2":{"datum":108},"fill":{"field":"n","type":"nominal","legend":null}}},
{"transform":[{"filter":"datum.n"}],"mark":{"type":"rect","opacity":0.15},"encoding":{"x":{"field":"b","type":"quantitative"},"x2":{"field":"v3"},"y":{"datum":0},"y2":{"datum":108},"fill":{"field":"k","type":"nominal","legend":null}}},
{"transform":[{"filter":"datum.n"}],"mark":{"type":"rect","opacity":0.18},"encoding":{"x":{"field":"b","type":"quantitative"},"x2":{"field":"v2"},"y":{"datum":0},"y2":{"datum":108},"fill":{"field":"k","type":"nominal","legend":null}}},
{"transform":[{"filter":"datum.n"}],"mark":{"type":"rect","opacity":0.22},"encoding":{"x":{"field":"b","type":"quantitative"},"x2":{"field":"v1"},"y":{"datum":0},"y2":{"datum":108},"fill":{"field":"k","type":"nominal","legend":null}}},
{"mark":{"type":"rule","color":"#777","strokeWidth":2},"encoding":{"x":{"datum":600},"x2":{"datum":800},"y":{"datum":132}}}
]},
{"width":911,"height":241,"transform":[{"filter":"datum.s==3"},{"window":[{"op":"lead","field":"k","as":"n"}],"sort":[{"field":"a"}]},{"calculate":"datum.b-0.75","as":"u1"},{"calculate":"datum.b-0.5","as":"u2"},{"calculate":"datum.b-0.25","as":"u3"},{"calculate":"datum.b+0.25","as":"v1"},{"calculate":"datum.b+0.5","as":"v2"},{"calculate":"datum.b+0.75","as":"v3"}],
"layer":[
{"mark":"rect","encoding":{"x":{"field":"a","type":"quantitative","scale":{"domain":[792.326,1010.791],"nice":false},"axis":{"values":[800,820,840,860,880,900,920,940,960,980,1000],"labelExpr":"datum.value%40==0?''+datum.value:''","title":"Time (second)","offset":-107}},"x2":{"field":"b"},"y":{"datum":0,"scale":{"domain":[0,241],"reverse":true,"nice":false},"axis":null},"y2":{"datum":108},"fill":{"field":"k","type":"nominal","legend":null}}},
{"transform":[{"filter":"datum.n"}],"mark":{"type":"rect","opacity":0.15},"encoding":{"x":{"field":"u1","type":"quantitative"},"x2":{"field":"b"},"y":{"datum":0},"y2":{"datum":108},"fill":{"field":"n","type":"nominal","legend":null}}},
{"transform":[{"filter":"datum.n"}],"mark":{"type":"rect","opacity":0.18},"encoding":{"x":{"field":"u2","type":"quantitative"},"x2":{"field":"b"},"y":{"datum":0},"y2":{"datum":108},"fill":{"field":"n","type":"nominal","legend":null}}},
{"transform":[{"filter":"datum.n"}],"mark":{"type":"rect","opacity":0.22},"encoding":{"x":{"field":"u3","type":"quantitative"},"x2":{"field":"b"},"y":{"datum":0},"y2":{"datum":108},"fill":{"field":"n","type":"nominal","legend":null}}},
{"transform":[{"filter":"datum.n"}],"mark":{"type":"rect","opacity":0.15},"encoding":{"x":{"field":"b","type":"quantitative"},"x2":{"field":"v3"},"y":{"datum":0},"y2":{"datum":108},"fill":{"field":"k","type":"nominal","legend":null}}},
{"transform":[{"filter":"datum.n"}],"mark":{"type":"rect","opacity":0.18},"encoding":{"x":{"field":"b","type":"quantitative"},"x2":{"field":"v2"},"y":{"datum":0},"y2":{"datum":108},"fill":{"field":"k","type":"nominal","legend":null}}},
{"transform":[{"filter":"datum.n"}],"mark":{"type":"rect","opacity":0.22},"encoding":{"x":{"field":"b","type":"quantitative"},"x2":{"field":"v1"},"y":{"datum":0},"y2":{"datum":108},"fill":{"field":"k","type":"nominal","legend":null}}},
{"mark":{"type":"rule","color":"#777","strokeWidth":2},"encoding":{"x":{"datum":800},"x2":{"datum":1000},"y":{"datum":134}}}
]},
{"width":911,"height":233,"transform":[{"filter":"datum.s==4"},{"window":[{"op":"lead","field":"k","as":"n"}],"sort":[{"field":"a"}]},{"calculate":"datum.b-0.75","as":"u1"},{"calculate":"datum.b-0.5","as":"u2"},{"calculate":"datum.b-0.25","as":"u3"},{"calculate":"datum.b+0.25","as":"v1"},{"calculate":"datum.b+0.5","as":"v2"},{"calculate":"datum.b+0.75","as":"v3"}],
"layer":[
{"mark":"rect","encoding":{"x":{"field":"a","type":"quantitative","scale":{"domain":[992.326,1210.791],"nice":false},"axis":{"values":[1000,1020,1040,1060,1080,1100,1120,1140,1160,1180,1200],"labelExpr":"datum.value%40==0?''+datum.value:''","title":"Time (second)","offset":-104}},"x2":{"field":"b"},"y":{"datum":0,"scale":{"domain":[0,233],"reverse":true,"nice":false},"axis":null},"y2":{"datum":108},"fill":{"field":"k","type":"nominal","legend":null}}},
{"transform":[{"filter":"datum.n"}],"mark":{"type":"rect","opacity":0.15},"encoding":{"x":{"field":"u1","type":"quantitative"},"x2":{"field":"b"},"y":{"datum":0},"y2":{"datum":108},"fill":{"field":"n","type":"nominal","legend":null}}},
{"transform":[{"filter":"datum.n"}],"mark":{"type":"rect","opacity":0.18},"encoding":{"x":{"field":"u2","type":"quantitative"},"x2":{"field":"b"},"y":{"datum":0},"y2":{"datum":108},"fill":{"field":"n","type":"nominal","legend":null}}},
{"transform":[{"filter":"datum.n"}],"mark":{"type":"rect","opacity":0.22},"encoding":{"x":{"field":"u3","type":"quantitative"},"x2":{"field":"b"},"y":{"datum":0},"y2":{"datum":108},"fill":{"field":"n","type":"nominal","legend":null}}},
{"transform":[{"filter":"datum.n"}],"mark":{"type":"rect","opacity":0.15},"encoding":{"x":{"field":"b","type":"quantitative"},"x2":{"field":"v3"},"y":{"datum":0},"y2":{"datum":108},"fill":{"field":"k","type":"nominal","legend":null}}},
{"transform":[{"filter":"datum.n"}],"mark":{"type":"rect","opacity":0.18},"encoding":{"x":{"field":"b","type":"quantitative"},"x2":{"field":"v2"},"y":{"datum":0},"y2":{"datum":108},"fill":{"field":"k","type":"nominal","legend":null}}},
{"transform":[{"filter":"datum.n"}],"mark":{"type":"rect","opacity":0.22},"encoding":{"x":{"field":"b","type":"quantitative"},"x2":{"field":"v1"},"y":{"datum":0},"y2":{"datum":108},"fill":{"field":"k","type":"nominal","legend":null}}},
{"mark":{"type":"rule","color":"#777","strokeWidth":2},"encoding":{"x":{"datum":1000},"x2":{"datum":1200},"y":{"datum":129}}}
]},
{"width":911,"height":238,"transform":[{"filter":"datum.s==5"},{"window":[{"op":"lead","field":"k","as":"n"}],"sort":[{"field":"a"}]},{"calculate":"datum.b-0.75","as":"u1"},{"calculate":"datum.b-0.5","as":"u2"},{"calculate":"datum.b-0.25","as":"u3"},{"calculate":"datum.b+0.25","as":"v1"},{"calculate":"datum.b+0.5","as":"v2"},{"calculate":"datum.b+0.75","as":"v3"}],
"layer":[
{"mark":"rect","encoding":{"x":{"field":"a","type":"quantitative","scale":{"domain":[1192.326,1410.791],"nice":false},"axis":{"values":[1200,1220,1240,1260,1280,1300,1320,1340,1360,1380,1400],"labelExpr":"datum.value%40==0?''+datum.value:''","title":"Time (second)","offset":-105}},"x2":{"field":"b"},"y":{"datum":0,"scale":{"domain":[0,238],"reverse":true,"nice":false},"axis":null},"y2":{"datum":109},"fill":{"field":"k","type":"nominal","legend":null}}},
{"transform":[{"filter":"datum.n"}],"mark":{"type":"rect","opacity":0.15},"encoding":{"x":{"field":"u1","type":"quantitative"},"x2":{"field":"b"},"y":{"datum":0},"y2":{"datum":109},"fill":{"field":"n","type":"nominal","legend":null}}},
{"transform":[{"filter":"datum.n"}],"mark":{"type":"rect","opacity":0.18},"encoding":{"x":{"field":"u2","type":"quantitative"},"x2":{"field":"b"},"y":{"datum":0},"y2":{"datum":109},"fill":{"field":"n","type":"nominal","legend":null}}},
{"transform":[{"filter":"datum.n"}],"mark":{"type":"rect","opacity":0.22},"encoding":{"x":{"field":"u3","type":"quantitative"},"x2":{"field":"b"},"y":{"datum":0},"y2":{"datum":109},"fill":{"field":"n","type":"nominal","legend":null}}},
{"transform":[{"filter":"datum.n"}],"mark":{"type":"rect","opacity":0.15},"encoding":{"x":{"field":"b","type":"quantitative"},"x2":{"field":"v3"},"y":{"datum":0},"y2":{"datum":109},"fill":{"field":"k","type":"nominal","legend":null}}},
{"transform":[{"filter":"datum.n"}],"mark":{"type":"rect","opacity":0.18},"encoding":{"x":{"field":"b","type":"quantitative"},"x2":{"field":"v2"},"y":{"datum":0},"y2":{"datum":109},"fill":{"field":"k","type":"nominal","legend":null}}},
{"transform":[{"filter":"datum.n"}],"mark":{"type":"rect","opacity":0.22},"encoding":{"x":{"field":"b","type":"quantitative"},"x2":{"field":"v1"},"y":{"datum":0},"y2":{"datum":109},"fill":{"field":"k","type":"nominal","legend":null}}},
{"mark":{"type":"rule","color":"#777","strokeWidth":2},"encoding":{"x":{"datum":1200},"x2":{"datum":1400},"y":{"datum":133}}}
]},
{"width":911,"height":188,"transform":[{"filter":"datum.s==6"},{"window":[{"op":"lead","field":"k","as":"n"}],"sort":[{"field":"a"}]},{"calculate":"datum.b-0.75","as":"u1"},{"calculate":"datum.b-0.5","as":"u2"},{"calculate":"datum.b-0.25","as":"u3"},{"calculate":"datum.b+0.25","as":"v1"},{"calculate":"datum.b+0.5","as":"v2"},{"calculate":"datum.b+0.75","as":"v3"}],
"layer":[
{"mark":"rect","encoding":{"x":{"field":"a","type":"quantitative","scale":{"domain":[1392.326,1610.791],"nice":false},"axis":{"values":[1400,1420,1440,1460,1480,1500,1520,1540,1560,1580,1600],"labelExpr":"datum.value%40==0?''+datum.value:''","title":"Time (second)","offset":-57}},"x2":{"field":"b"},"y":{"datum":0,"scale":{"domain":[0,188],"reverse":true,"nice":false},"axis":null},"y2":{"datum":107},"fill":{"field":"k","type":"nominal","legend":null}}},
{"transform":[{"filter":"datum.n"}],"mark":{"type":"rect","opacity":0.15},"encoding":{"x":{"field":"u1","type":"quantitative"},"x2":{"field":"b"},"y":{"datum":0},"y2":{"datum":107},"fill":{"field":"n","type":"nominal","legend":null}}},
{"transform":[{"filter":"datum.n"}],"mark":{"type":"rect","opacity":0.18},"encoding":{"x":{"field":"u2","type":"quantitative"},"x2":{"field":"b"},"y":{"datum":0},"y2":{"datum":107},"fill":{"field":"n","type":"nominal","legend":null}}},
{"transform":[{"filter":"datum.n"}],"mark":{"type":"rect","opacity":0.22},"encoding":{"x":{"field":"u3","type":"quantitative"},"x2":{"field":"b"},"y":{"datum":0},"y2":{"datum":107},"fill":{"field":"n","type":"nominal","legend":null}}},
{"transform":[{"filter":"datum.n"}],"mark":{"type":"rect","opacity":0.15},"encoding":{"x":{"field":"b","type":"quantitative"},"x2":{"field":"v3"},"y":{"datum":0},"y2":{"datum":107},"fill":{"field":"k","type":"nominal","legend":null}}},
{"transform":[{"filter":"datum.n"}],"mark":{"type":"rect","opacity":0.18},"encoding":{"x":{"field":"b","type":"quantitative"},"x2":{"field":"v2"},"y":{"datum":0},"y2":{"datum":107},"fill":{"field":"k","type":"nominal","legend":null}}},
{"transform":[{"filter":"datum.n"}],"mark":{"type":"rect","opacity":0.22},"encoding":{"x":{"field":"b","type":"quantitative"},"x2":{"field":"v1"},"y":{"datum":0},"y2":{"datum":107},"fill":{"field":"k","type":"nominal","legend":null}}},
{"mark":{"type":"rule","color":"#777","strokeWidth":2},"encoding":{"x":{"datum":1400},"x2":{"datum":1600},"y":{"datum":131}}}
]}
]
}
